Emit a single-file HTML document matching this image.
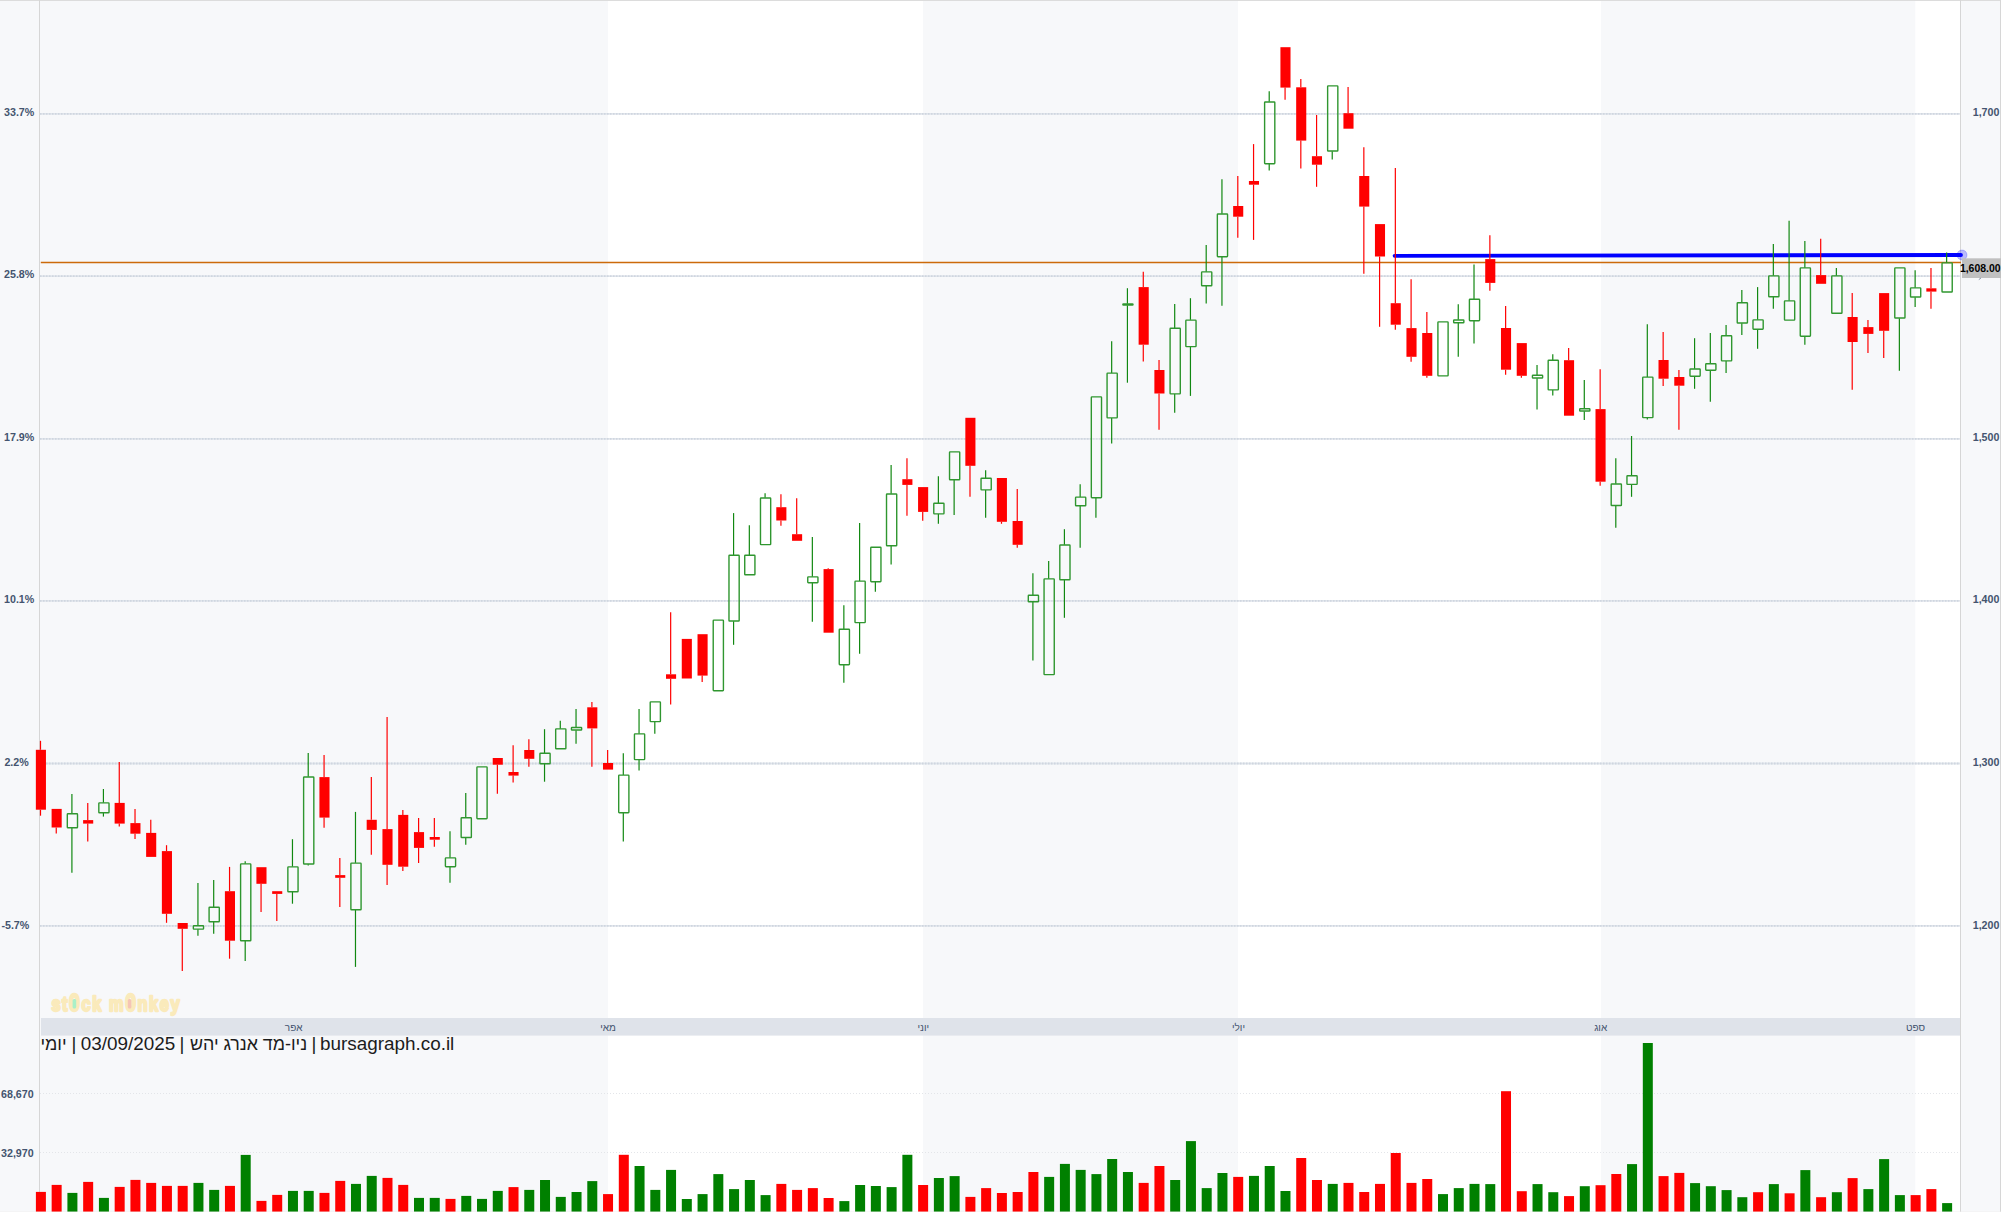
<!DOCTYPE html><html><head><meta charset="utf-8"><title>bursagraph</title>
<style>html,body{margin:0;padding:0;background:#f7f8fa;}body{width:2001px;height:1212px;overflow:hidden;}svg{display:block;}text{font-family:"Liberation Sans","DejaVu Sans",sans-serif;}.ax{font-size:10.7px;font-weight:bold;fill:#44546f;}.mo{font-size:10px;fill:#44546f;text-anchor:middle;}</style></head><body>
<svg width="2001" height="1212" viewBox="0 0 2001 1212">
<rect x="0" y="0" width="2001" height="1212" fill="#f7f8fa"/>
<rect x="608" y="1" width="315" height="1211" fill="#ffffff"/>
<rect x="1238" y="1" width="363" height="1211" fill="#ffffff"/>
<rect x="1915.3" y="1" width="44.700000000000045" height="1211" fill="#ffffff"/>
<rect x="0" y="0" width="2001" height="1" fill="#dcdcdc"/>
<rect x="39" y="0" width="1" height="1212" fill="#d6d6d6"/>
<rect x="1960" y="0" width="1" height="1212" fill="#d6d6d6"/>
<rect x="2000" y="0" width="1" height="1212" fill="#d6d6d6"/>
<line x1="40" x2="1960" y1="113.9" y2="113.9" stroke="#e0e5eb" stroke-width="1.8"/>
<line x1="40" x2="1960" y1="113.9" y2="113.9" stroke="#cfd6e0" stroke-width="1.8" stroke-dasharray="1.5 1.5"/>
<line x1="40" x2="1960" y1="276.2" y2="276.2" stroke="#e0e5eb" stroke-width="1.8"/>
<line x1="40" x2="1960" y1="276.2" y2="276.2" stroke="#cfd6e0" stroke-width="1.8" stroke-dasharray="1.5 1.5"/>
<line x1="40" x2="1960" y1="438.8" y2="438.8" stroke="#e0e5eb" stroke-width="1.8"/>
<line x1="40" x2="1960" y1="438.8" y2="438.8" stroke="#cfd6e0" stroke-width="1.8" stroke-dasharray="1.5 1.5"/>
<line x1="40" x2="1960" y1="600.9" y2="600.9" stroke="#e0e5eb" stroke-width="1.8"/>
<line x1="40" x2="1960" y1="600.9" y2="600.9" stroke="#cfd6e0" stroke-width="1.8" stroke-dasharray="1.5 1.5"/>
<line x1="40" x2="1960" y1="763.5" y2="763.5" stroke="#e0e5eb" stroke-width="1.8"/>
<line x1="40" x2="1960" y1="763.5" y2="763.5" stroke="#cfd6e0" stroke-width="1.8" stroke-dasharray="1.5 1.5"/>
<line x1="40" x2="1960" y1="925.9" y2="925.9" stroke="#e0e5eb" stroke-width="1.8"/>
<line x1="40" x2="1960" y1="925.9" y2="925.9" stroke="#cfd6e0" stroke-width="1.8" stroke-dasharray="1.5 1.5"/>
<line x1="40" x2="1960" y1="1093.5" y2="1093.5" stroke="#e3e5e9" stroke-width="1" stroke-dasharray="1 2"/>
<line x1="40" x2="1960" y1="1152.5" y2="1152.5" stroke="#e3e5e9" stroke-width="1" stroke-dasharray="1 2"/>
<line x1="40.8" x2="1961" y1="262.5" y2="262.5" stroke="#cc6a0a" stroke-width="1.3"/>
<line x1="1394.6" x2="1961" y1="255.8" y2="255" stroke="#0000ff" stroke-width="3.8" stroke-linecap="round"/>
<rect x="35.90" y="1191.9" width="10" height="20.1" fill="#ff0000"/>
<rect x="51.65" y="1184.9" width="10" height="27.1" fill="#ff0000"/>
<rect x="67.41" y="1192.9" width="10" height="19.1" fill="#008000"/>
<rect x="83.16" y="1181.9" width="10" height="30.1" fill="#ff0000"/>
<rect x="98.92" y="1197.9" width="10" height="14.1" fill="#008000"/>
<rect x="114.67" y="1186.9" width="10" height="25.1" fill="#ff0000"/>
<rect x="130.42" y="1179.9" width="10" height="32.1" fill="#ff0000"/>
<rect x="146.18" y="1182.9" width="10" height="29.1" fill="#ff0000"/>
<rect x="161.93" y="1185.9" width="10" height="26.1" fill="#ff0000"/>
<rect x="177.69" y="1185.9" width="10" height="26.1" fill="#ff0000"/>
<rect x="193.44" y="1182.9" width="10" height="29.1" fill="#008000"/>
<rect x="209.19" y="1189.9" width="10" height="22.1" fill="#008000"/>
<rect x="224.95" y="1185.9" width="10" height="26.1" fill="#ff0000"/>
<rect x="240.70" y="1154.9" width="10" height="57.1" fill="#008000"/>
<rect x="256.46" y="1200.9" width="10" height="11.1" fill="#ff0000"/>
<rect x="272.21" y="1194.9" width="10" height="17.1" fill="#ff0000"/>
<rect x="287.96" y="1190.9" width="10" height="21.1" fill="#008000"/>
<rect x="303.72" y="1190.9" width="10" height="21.1" fill="#008000"/>
<rect x="319.47" y="1192.9" width="10" height="19.1" fill="#ff0000"/>
<rect x="335.23" y="1180.9" width="10" height="31.1" fill="#ff0000"/>
<rect x="350.98" y="1183.9" width="10" height="28.1" fill="#008000"/>
<rect x="366.73" y="1175.9" width="10" height="36.1" fill="#008000"/>
<rect x="382.49" y="1177.9" width="10" height="34.1" fill="#ff0000"/>
<rect x="398.24" y="1184.9" width="10" height="27.1" fill="#ff0000"/>
<rect x="414.00" y="1197.9" width="10" height="14.1" fill="#008000"/>
<rect x="429.75" y="1197.9" width="10" height="14.1" fill="#008000"/>
<rect x="445.50" y="1198.9" width="10" height="13.1" fill="#ff0000"/>
<rect x="461.26" y="1195.9" width="10" height="16.1" fill="#008000"/>
<rect x="477.01" y="1198.9" width="10" height="13.1" fill="#008000"/>
<rect x="492.77" y="1190.9" width="10" height="21.1" fill="#008000"/>
<rect x="508.52" y="1187.1" width="10" height="24.9" fill="#ff0000"/>
<rect x="524.27" y="1189.9" width="10" height="22.1" fill="#008000"/>
<rect x="540.03" y="1180.0" width="10" height="32.0" fill="#008000"/>
<rect x="555.78" y="1196.9" width="10" height="15.1" fill="#008000"/>
<rect x="571.54" y="1192.0" width="10" height="20.0" fill="#008000"/>
<rect x="587.29" y="1181.1" width="10" height="30.9" fill="#008000"/>
<rect x="603.04" y="1194.1" width="10" height="17.9" fill="#ff0000"/>
<rect x="618.80" y="1154.8" width="10" height="57.2" fill="#ff0000"/>
<rect x="634.55" y="1166.0" width="10" height="46.0" fill="#008000"/>
<rect x="650.31" y="1189.9" width="10" height="22.1" fill="#008000"/>
<rect x="666.06" y="1169.9" width="10" height="42.1" fill="#008000"/>
<rect x="681.81" y="1199.0" width="10" height="13.0" fill="#008000"/>
<rect x="697.57" y="1194.1" width="10" height="17.9" fill="#008000"/>
<rect x="713.32" y="1174.1" width="10" height="37.9" fill="#008000"/>
<rect x="729.08" y="1189.1" width="10" height="22.9" fill="#008000"/>
<rect x="744.83" y="1180.0" width="10" height="32.0" fill="#008000"/>
<rect x="760.58" y="1195.1" width="10" height="16.9" fill="#008000"/>
<rect x="776.34" y="1183.9" width="10" height="28.1" fill="#ff0000"/>
<rect x="792.09" y="1189.9" width="10" height="22.1" fill="#ff0000"/>
<rect x="807.85" y="1188.1" width="10" height="23.9" fill="#ff0000"/>
<rect x="823.60" y="1198.0" width="10" height="14.0" fill="#ff0000"/>
<rect x="839.35" y="1201.1" width="10" height="10.9" fill="#008000"/>
<rect x="855.11" y="1185.0" width="10" height="27.0" fill="#008000"/>
<rect x="870.86" y="1186.0" width="10" height="26.0" fill="#008000"/>
<rect x="886.62" y="1187.1" width="10" height="24.9" fill="#008000"/>
<rect x="902.37" y="1154.8" width="10" height="57.2" fill="#008000"/>
<rect x="918.12" y="1185.0" width="10" height="27.0" fill="#ff0000"/>
<rect x="933.88" y="1178.0" width="10" height="34.0" fill="#008000"/>
<rect x="949.63" y="1176.1" width="10" height="35.9" fill="#008000"/>
<rect x="965.39" y="1196.9" width="10" height="15.1" fill="#ff0000"/>
<rect x="981.14" y="1188.1" width="10" height="23.9" fill="#ff0000"/>
<rect x="996.89" y="1193.0" width="10" height="19.0" fill="#ff0000"/>
<rect x="1012.65" y="1192.0" width="10" height="20.0" fill="#ff0000"/>
<rect x="1028.40" y="1172.0" width="10" height="40.0" fill="#ff0000"/>
<rect x="1044.16" y="1176.9" width="10" height="35.1" fill="#008000"/>
<rect x="1059.91" y="1163.9" width="10" height="48.1" fill="#008000"/>
<rect x="1075.66" y="1169.9" width="10" height="42.1" fill="#008000"/>
<rect x="1091.42" y="1174.1" width="10" height="37.9" fill="#008000"/>
<rect x="1107.17" y="1159.0" width="10" height="53.0" fill="#008000"/>
<rect x="1122.93" y="1172.0" width="10" height="40.0" fill="#008000"/>
<rect x="1138.68" y="1182.9" width="10" height="29.1" fill="#ff0000"/>
<rect x="1154.43" y="1166.0" width="10" height="46.0" fill="#ff0000"/>
<rect x="1170.19" y="1180.0" width="10" height="32.0" fill="#008000"/>
<rect x="1185.94" y="1141.1" width="10" height="70.9" fill="#008000"/>
<rect x="1201.70" y="1188.1" width="10" height="23.9" fill="#008000"/>
<rect x="1217.45" y="1173.0" width="10" height="39.0" fill="#008000"/>
<rect x="1233.20" y="1176.9" width="10" height="35.1" fill="#ff0000"/>
<rect x="1248.96" y="1175.9" width="10" height="36.1" fill="#008000"/>
<rect x="1264.71" y="1166.0" width="10" height="46.0" fill="#008000"/>
<rect x="1280.47" y="1191.0" width="10" height="21.0" fill="#008000"/>
<rect x="1296.22" y="1158.0" width="10" height="54.0" fill="#ff0000"/>
<rect x="1311.97" y="1180.0" width="10" height="32.0" fill="#ff0000"/>
<rect x="1327.73" y="1183.9" width="10" height="28.1" fill="#008000"/>
<rect x="1343.48" y="1182.9" width="10" height="29.1" fill="#ff0000"/>
<rect x="1359.24" y="1192.0" width="10" height="20.0" fill="#ff0000"/>
<rect x="1374.99" y="1183.9" width="10" height="28.1" fill="#ff0000"/>
<rect x="1390.74" y="1153.0" width="10" height="59.0" fill="#ff0000"/>
<rect x="1406.50" y="1182.9" width="10" height="29.1" fill="#ff0000"/>
<rect x="1422.25" y="1179.0" width="10" height="33.0" fill="#ff0000"/>
<rect x="1438.01" y="1194.1" width="10" height="17.9" fill="#008000"/>
<rect x="1453.76" y="1188.1" width="10" height="23.9" fill="#008000"/>
<rect x="1469.51" y="1183.9" width="10" height="28.1" fill="#008000"/>
<rect x="1485.27" y="1184.1" width="10" height="27.9" fill="#008000"/>
<rect x="1501.02" y="1091.2" width="10" height="120.8" fill="#ff0000"/>
<rect x="1516.78" y="1191.2" width="10" height="20.8" fill="#ff0000"/>
<rect x="1532.53" y="1184.1" width="10" height="27.9" fill="#008000"/>
<rect x="1548.28" y="1192.2" width="10" height="19.8" fill="#008000"/>
<rect x="1564.04" y="1196.1" width="10" height="15.9" fill="#ff0000"/>
<rect x="1579.79" y="1186.2" width="10" height="25.8" fill="#008000"/>
<rect x="1595.55" y="1185.2" width="10" height="26.8" fill="#ff0000"/>
<rect x="1611.30" y="1174.0" width="10" height="38.0" fill="#ff0000"/>
<rect x="1627.05" y="1164.1" width="10" height="47.9" fill="#008000"/>
<rect x="1642.81" y="1043.0" width="10" height="169.0" fill="#008000"/>
<rect x="1658.56" y="1176.1" width="10" height="35.9" fill="#ff0000"/>
<rect x="1674.32" y="1172.9" width="10" height="39.1" fill="#ff0000"/>
<rect x="1690.07" y="1183.1" width="10" height="28.9" fill="#008000"/>
<rect x="1705.82" y="1186.2" width="10" height="25.8" fill="#008000"/>
<rect x="1721.58" y="1190.1" width="10" height="21.9" fill="#008000"/>
<rect x="1737.33" y="1197.2" width="10" height="14.8" fill="#008000"/>
<rect x="1753.09" y="1192.2" width="10" height="19.8" fill="#ff0000"/>
<rect x="1768.84" y="1184.1" width="10" height="27.9" fill="#008000"/>
<rect x="1784.59" y="1193.3" width="10" height="18.7" fill="#ff0000"/>
<rect x="1800.35" y="1170.1" width="10" height="41.9" fill="#008000"/>
<rect x="1816.10" y="1197.2" width="10" height="14.8" fill="#ff0000"/>
<rect x="1831.86" y="1192.2" width="10" height="19.8" fill="#008000"/>
<rect x="1847.61" y="1178.1" width="10" height="33.9" fill="#ff0000"/>
<rect x="1863.36" y="1189.1" width="10" height="22.9" fill="#008000"/>
<rect x="1879.12" y="1159.1" width="10" height="52.9" fill="#008000"/>
<rect x="1894.87" y="1195.1" width="10" height="16.9" fill="#008000"/>
<rect x="1910.63" y="1195.1" width="10" height="16.9" fill="#ff0000"/>
<rect x="1926.38" y="1189.1" width="10" height="22.9" fill="#ff0000"/>
<rect x="1942.13" y="1203.1" width="10" height="8.9" fill="#008000"/>
<line x1="40.50" x2="40.50" y1="740.8" y2="749.8" stroke="#ff0000" stroke-width="1.2"/>
<line x1="40.50" x2="40.50" y1="809.7" y2="815.7" stroke="#ff0000" stroke-width="1.2"/>
<rect x="35.85" y="749.8" width="10.1" height="59.9" fill="#ff0000"/>
<line x1="56.25" x2="56.25" y1="827.5" y2="833.4" stroke="#ff0000" stroke-width="1.2"/>
<rect x="51.60" y="808.9" width="10.1" height="18.6" fill="#ff0000"/>
<line x1="71.91" x2="71.91" y1="794.0" y2="813.6" stroke="#118811" stroke-width="1.2"/>
<line x1="71.91" x2="71.91" y1="828.0" y2="872.7" stroke="#118811" stroke-width="1.2"/>
<rect x="67.31" y="813.8" width="10.2" height="14.0" rx="0.6" fill="#ffffff" fill-opacity="0.22" stroke="#2f962f" stroke-width="1.4"/>
<line x1="87.76" x2="87.76" y1="802.9" y2="820.1" stroke="#ff0000" stroke-width="1.2"/>
<line x1="87.76" x2="87.76" y1="823.6" y2="841.6" stroke="#ff0000" stroke-width="1.2"/>
<rect x="83.11" y="820.1" width="10.1" height="3.5" fill="#ff0000"/>
<line x1="103.42" x2="103.42" y1="789.0" y2="802.7" stroke="#118811" stroke-width="1.2"/>
<line x1="103.42" x2="103.42" y1="813.0" y2="816.6" stroke="#118811" stroke-width="1.2"/>
<rect x="98.82" y="802.9" width="10.2" height="9.9" rx="0.6" fill="#ffffff" fill-opacity="0.22" stroke="#2f962f" stroke-width="1.4"/>
<line x1="119.27" x2="119.27" y1="762.1" y2="802.9" stroke="#ff0000" stroke-width="1.2"/>
<line x1="119.27" x2="119.27" y1="823.6" y2="826.6" stroke="#ff0000" stroke-width="1.2"/>
<rect x="114.62" y="802.9" width="10.1" height="20.7" fill="#ff0000"/>
<line x1="135.02" x2="135.02" y1="808.9" y2="823.1" stroke="#ff0000" stroke-width="1.2"/>
<line x1="135.02" x2="135.02" y1="833.7" y2="838.9" stroke="#ff0000" stroke-width="1.2"/>
<rect x="130.37" y="823.1" width="10.1" height="10.6" fill="#ff0000"/>
<line x1="150.78" x2="150.78" y1="819.8" y2="832.9" stroke="#ff0000" stroke-width="1.2"/>
<rect x="146.13" y="832.9" width="10.1" height="24.0" fill="#ff0000"/>
<line x1="166.53" x2="166.53" y1="845.2" y2="851.1" stroke="#ff0000" stroke-width="1.2"/>
<line x1="166.53" x2="166.53" y1="913.8" y2="922.8" stroke="#ff0000" stroke-width="1.2"/>
<rect x="161.88" y="851.1" width="10.1" height="62.7" fill="#ff0000"/>
<line x1="182.29" x2="182.29" y1="928.8" y2="971.0" stroke="#ff0000" stroke-width="1.2"/>
<rect x="177.64" y="923.0" width="10.1" height="5.8" fill="#ff0000"/>
<line x1="197.94" x2="197.94" y1="883.0" y2="925.5" stroke="#118811" stroke-width="1.2"/>
<line x1="197.94" x2="197.94" y1="929.3" y2="935.8" stroke="#118811" stroke-width="1.2"/>
<rect x="193.34" y="925.7" width="10.2" height="3.4" rx="0.6" fill="#ffffff" fill-opacity="0.22" stroke="#2f962f" stroke-width="1.4"/>
<line x1="213.69" x2="213.69" y1="880.0" y2="907.0" stroke="#118811" stroke-width="1.2"/>
<line x1="213.69" x2="213.69" y1="922.0" y2="933.7" stroke="#118811" stroke-width="1.2"/>
<rect x="209.09" y="907.2" width="10.2" height="14.6" rx="0.6" fill="#ffffff" fill-opacity="0.22" stroke="#2f962f" stroke-width="1.4"/>
<line x1="229.55" x2="229.55" y1="866.9" y2="891.2" stroke="#ff0000" stroke-width="1.2"/>
<line x1="229.55" x2="229.55" y1="940.7" y2="958.7" stroke="#ff0000" stroke-width="1.2"/>
<rect x="224.90" y="891.2" width="10.1" height="49.5" fill="#ff0000"/>
<line x1="245.20" x2="245.20" y1="861.2" y2="863.7" stroke="#118811" stroke-width="1.2"/>
<line x1="245.20" x2="245.20" y1="941.0" y2="960.9" stroke="#118811" stroke-width="1.2"/>
<rect x="240.60" y="863.9" width="10.2" height="76.9" rx="0.6" fill="#ffffff" fill-opacity="0.22" stroke="#2f962f" stroke-width="1.4"/>
<line x1="261.06" x2="261.06" y1="883.8" y2="911.9" stroke="#ff0000" stroke-width="1.2"/>
<rect x="256.41" y="867.2" width="10.1" height="16.6" fill="#ff0000"/>
<line x1="276.81" x2="276.81" y1="893.9" y2="920.9" stroke="#ff0000" stroke-width="1.2"/>
<rect x="272.16" y="891.2" width="10.1" height="2.7" fill="#ff0000"/>
<line x1="292.46" x2="292.46" y1="839.2" y2="866.7" stroke="#118811" stroke-width="1.2"/>
<line x1="292.46" x2="292.46" y1="892.0" y2="903.7" stroke="#118811" stroke-width="1.2"/>
<rect x="287.86" y="866.9" width="10.2" height="24.9" rx="0.6" fill="#ffffff" fill-opacity="0.22" stroke="#2f962f" stroke-width="1.4"/>
<line x1="308.22" x2="308.22" y1="753.1" y2="776.8" stroke="#118811" stroke-width="1.2"/>
<line x1="308.22" x2="308.22" y1="864.2" y2="865.6" stroke="#118811" stroke-width="1.2"/>
<rect x="303.62" y="777.0" width="10.2" height="87.0" rx="0.6" fill="#ffffff" fill-opacity="0.22" stroke="#2f962f" stroke-width="1.4"/>
<line x1="324.07" x2="324.07" y1="755.0" y2="777.1" stroke="#ff0000" stroke-width="1.2"/>
<line x1="324.07" x2="324.07" y1="817.6" y2="827.7" stroke="#ff0000" stroke-width="1.2"/>
<rect x="319.42" y="777.1" width="10.1" height="40.5" fill="#ff0000"/>
<line x1="339.83" x2="339.83" y1="858.0" y2="875.1" stroke="#ff0000" stroke-width="1.2"/>
<line x1="339.83" x2="339.83" y1="877.8" y2="907.0" stroke="#ff0000" stroke-width="1.2"/>
<rect x="335.18" y="875.1" width="10.1" height="2.7" fill="#ff0000"/>
<line x1="355.48" x2="355.48" y1="811.9" y2="862.9" stroke="#118811" stroke-width="1.2"/>
<line x1="355.48" x2="355.48" y1="910.0" y2="966.9" stroke="#118811" stroke-width="1.2"/>
<rect x="350.88" y="863.1" width="10.2" height="46.7" rx="0.6" fill="#ffffff" fill-opacity="0.22" stroke="#2f962f" stroke-width="1.4"/>
<line x1="371.33" x2="371.33" y1="777.1" y2="819.8" stroke="#ff0000" stroke-width="1.2"/>
<line x1="371.33" x2="371.33" y1="829.9" y2="854.7" stroke="#ff0000" stroke-width="1.2"/>
<rect x="366.68" y="819.8" width="10.1" height="10.1" fill="#ff0000"/>
<line x1="387.09" x2="387.09" y1="716.9" y2="829.1" stroke="#ff0000" stroke-width="1.2"/>
<line x1="387.09" x2="387.09" y1="864.8" y2="884.9" stroke="#ff0000" stroke-width="1.2"/>
<rect x="382.44" y="829.1" width="10.1" height="35.7" fill="#ff0000"/>
<line x1="402.84" x2="402.84" y1="810.0" y2="814.9" stroke="#ff0000" stroke-width="1.2"/>
<line x1="402.84" x2="402.84" y1="866.7" y2="871.0" stroke="#ff0000" stroke-width="1.2"/>
<rect x="398.19" y="814.9" width="10.1" height="51.8" fill="#ff0000"/>
<line x1="418.60" x2="418.60" y1="817.9" y2="832.1" stroke="#ff0000" stroke-width="1.2"/>
<line x1="418.60" x2="418.60" y1="847.9" y2="862.9" stroke="#ff0000" stroke-width="1.2"/>
<rect x="413.95" y="832.1" width="10.1" height="15.8" fill="#ff0000"/>
<line x1="434.35" x2="434.35" y1="817.9" y2="837.0" stroke="#ff0000" stroke-width="1.2"/>
<line x1="434.35" x2="434.35" y1="839.7" y2="846.8" stroke="#ff0000" stroke-width="1.2"/>
<rect x="429.70" y="837.0" width="10.1" height="2.7" fill="#ff0000"/>
<line x1="450.00" x2="450.00" y1="831.3" y2="857.7" stroke="#118811" stroke-width="1.2"/>
<line x1="450.00" x2="450.00" y1="866.9" y2="882.7" stroke="#118811" stroke-width="1.2"/>
<rect x="445.40" y="857.9" width="10.2" height="8.8" rx="0.6" fill="#ffffff" fill-opacity="0.22" stroke="#2f962f" stroke-width="1.4"/>
<line x1="465.76" x2="465.76" y1="793.1" y2="817.6" stroke="#118811" stroke-width="1.2"/>
<line x1="465.76" x2="465.76" y1="837.7" y2="844.7" stroke="#118811" stroke-width="1.2"/>
<rect x="461.16" y="817.8" width="10.2" height="19.7" rx="0.6" fill="#ffffff" fill-opacity="0.22" stroke="#2f962f" stroke-width="1.4"/>
<rect x="476.91" y="766.9" width="10.2" height="51.8" rx="0.6" fill="#ffffff" fill-opacity="0.22" stroke="#2f962f" stroke-width="1.4"/>
<line x1="497.37" x2="497.37" y1="764.7" y2="793.8" stroke="#ff0000" stroke-width="1.2"/>
<rect x="492.72" y="758.0" width="10.1" height="6.7" fill="#ff0000"/>
<line x1="513.12" x2="513.12" y1="745.3" y2="772.0" stroke="#ff0000" stroke-width="1.2"/>
<line x1="513.12" x2="513.12" y1="775.6" y2="782.5" stroke="#ff0000" stroke-width="1.2"/>
<rect x="508.47" y="772.0" width="10.1" height="3.6" fill="#ff0000"/>
<line x1="528.87" x2="528.87" y1="739.2" y2="750.0" stroke="#ff0000" stroke-width="1.2"/>
<line x1="528.87" x2="528.87" y1="758.8" y2="766.7" stroke="#ff0000" stroke-width="1.2"/>
<rect x="524.22" y="750.0" width="10.1" height="8.8" fill="#ff0000"/>
<line x1="544.53" x2="544.53" y1="729.2" y2="753.0" stroke="#118811" stroke-width="1.2"/>
<line x1="544.53" x2="544.53" y1="764.0" y2="781.7" stroke="#118811" stroke-width="1.2"/>
<rect x="539.93" y="753.2" width="10.2" height="10.6" rx="0.6" fill="#ffffff" fill-opacity="0.22" stroke="#2f962f" stroke-width="1.4"/>
<line x1="560.28" x2="560.28" y1="720.7" y2="728.7" stroke="#118811" stroke-width="1.2"/>
<rect x="555.68" y="728.9" width="10.2" height="19.9" rx="0.6" fill="#ffffff" fill-opacity="0.22" stroke="#2f962f" stroke-width="1.4"/>
<line x1="576.04" x2="576.04" y1="709.1" y2="727.3" stroke="#118811" stroke-width="1.2"/>
<line x1="576.04" x2="576.04" y1="730.2" y2="743.7" stroke="#118811" stroke-width="1.2"/>
<rect x="571.44" y="727.5" width="10.2" height="2.5" rx="0.6" fill="#ffffff" fill-opacity="0.22" stroke="#2f962f" stroke-width="1.4"/>
<line x1="591.89" x2="591.89" y1="702.0" y2="707.3" stroke="#ff0000" stroke-width="1.2"/>
<line x1="591.89" x2="591.89" y1="728.4" y2="766.7" stroke="#ff0000" stroke-width="1.2"/>
<rect x="587.24" y="707.3" width="10.1" height="21.1" fill="#ff0000"/>
<line x1="607.64" x2="607.64" y1="750.0" y2="763.0" stroke="#ff0000" stroke-width="1.2"/>
<rect x="602.99" y="763.0" width="10.1" height="6.6" fill="#ff0000"/>
<line x1="623.30" x2="623.30" y1="753.2" y2="774.9" stroke="#118811" stroke-width="1.2"/>
<line x1="623.30" x2="623.30" y1="812.9" y2="841.6" stroke="#118811" stroke-width="1.2"/>
<rect x="618.70" y="775.1" width="10.2" height="37.6" rx="0.6" fill="#ffffff" fill-opacity="0.22" stroke="#2f962f" stroke-width="1.4"/>
<line x1="639.05" x2="639.05" y1="709.1" y2="733.7" stroke="#118811" stroke-width="1.2"/>
<line x1="639.05" x2="639.05" y1="759.8" y2="770.6" stroke="#118811" stroke-width="1.2"/>
<rect x="634.45" y="733.9" width="10.2" height="25.7" rx="0.6" fill="#ffffff" fill-opacity="0.22" stroke="#2f962f" stroke-width="1.4"/>
<line x1="654.81" x2="654.81" y1="721.8" y2="733.7" stroke="#118811" stroke-width="1.2"/>
<rect x="650.21" y="701.9" width="10.2" height="19.7" rx="0.6" fill="#ffffff" fill-opacity="0.22" stroke="#2f962f" stroke-width="1.4"/>
<line x1="670.66" x2="670.66" y1="612.3" y2="674.3" stroke="#ff0000" stroke-width="1.2"/>
<line x1="670.66" x2="670.66" y1="678.8" y2="704.6" stroke="#ff0000" stroke-width="1.2"/>
<rect x="666.01" y="674.3" width="10.1" height="4.5" fill="#ff0000"/>
<rect x="681.76" y="638.9" width="10.1" height="39.6" fill="#ff0000"/>
<line x1="702.17" x2="702.17" y1="675.6" y2="682.0" stroke="#ff0000" stroke-width="1.2"/>
<rect x="697.52" y="634.2" width="10.1" height="41.4" fill="#ff0000"/>
<rect x="713.22" y="620.1" width="10.2" height="70.6" rx="0.6" fill="#ffffff" fill-opacity="0.22" stroke="#2f962f" stroke-width="1.4"/>
<line x1="733.58" x2="733.58" y1="513.1" y2="555.0" stroke="#118811" stroke-width="1.2"/>
<line x1="733.58" x2="733.58" y1="621.2" y2="644.8" stroke="#118811" stroke-width="1.2"/>
<rect x="728.98" y="555.2" width="10.2" height="65.8" rx="0.6" fill="#ffffff" fill-opacity="0.22" stroke="#2f962f" stroke-width="1.4"/>
<line x1="749.33" x2="749.33" y1="525.2" y2="555.0" stroke="#118811" stroke-width="1.2"/>
<rect x="744.73" y="555.2" width="10.2" height="19.6" rx="0.6" fill="#ffffff" fill-opacity="0.22" stroke="#2f962f" stroke-width="1.4"/>
<line x1="765.08" x2="765.08" y1="493.3" y2="497.8" stroke="#118811" stroke-width="1.2"/>
<rect x="760.48" y="498.0" width="10.2" height="46.6" rx="0.6" fill="#ffffff" fill-opacity="0.22" stroke="#2f962f" stroke-width="1.4"/>
<line x1="780.94" x2="780.94" y1="494.3" y2="507.2" stroke="#ff0000" stroke-width="1.2"/>
<line x1="780.94" x2="780.94" y1="520.5" y2="525.7" stroke="#ff0000" stroke-width="1.2"/>
<rect x="776.29" y="507.2" width="10.1" height="13.3" fill="#ff0000"/>
<line x1="796.69" x2="796.69" y1="498.3" y2="534.2" stroke="#ff0000" stroke-width="1.2"/>
<rect x="792.04" y="534.2" width="10.1" height="6.6" fill="#ff0000"/>
<line x1="812.35" x2="812.35" y1="537.1" y2="576.7" stroke="#118811" stroke-width="1.2"/>
<line x1="812.35" x2="812.35" y1="582.9" y2="621.8" stroke="#118811" stroke-width="1.2"/>
<rect x="807.75" y="576.9" width="10.2" height="5.8" rx="0.6" fill="#ffffff" fill-opacity="0.22" stroke="#2f962f" stroke-width="1.4"/>
<line x1="828.20" x2="828.20" y1="568.3" y2="569.1" stroke="#ff0000" stroke-width="1.2"/>
<rect x="823.55" y="569.1" width="10.1" height="63.6" fill="#ff0000"/>
<line x1="843.85" x2="843.85" y1="605.2" y2="629.0" stroke="#118811" stroke-width="1.2"/>
<line x1="843.85" x2="843.85" y1="664.9" y2="682.7" stroke="#118811" stroke-width="1.2"/>
<rect x="839.25" y="629.2" width="10.2" height="35.5" rx="0.6" fill="#ffffff" fill-opacity="0.22" stroke="#2f962f" stroke-width="1.4"/>
<line x1="859.61" x2="859.61" y1="523.0" y2="580.9" stroke="#118811" stroke-width="1.2"/>
<line x1="859.61" x2="859.61" y1="622.8" y2="653.7" stroke="#118811" stroke-width="1.2"/>
<rect x="855.01" y="581.1" width="10.2" height="41.5" rx="0.6" fill="#ffffff" fill-opacity="0.22" stroke="#2f962f" stroke-width="1.4"/>
<line x1="875.36" x2="875.36" y1="581.9" y2="591.8" stroke="#118811" stroke-width="1.2"/>
<rect x="870.76" y="547.2" width="10.2" height="34.5" rx="0.6" fill="#ffffff" fill-opacity="0.22" stroke="#2f962f" stroke-width="1.4"/>
<line x1="891.12" x2="891.12" y1="465.1" y2="493.8" stroke="#118811" stroke-width="1.2"/>
<line x1="891.12" x2="891.12" y1="546.0" y2="564.6" stroke="#118811" stroke-width="1.2"/>
<rect x="886.52" y="494.0" width="10.2" height="51.8" rx="0.6" fill="#ffffff" fill-opacity="0.22" stroke="#2f962f" stroke-width="1.4"/>
<line x1="906.97" x2="906.97" y1="458.2" y2="479.2" stroke="#ff0000" stroke-width="1.2"/>
<line x1="906.97" x2="906.97" y1="484.9" y2="515.8" stroke="#ff0000" stroke-width="1.2"/>
<rect x="902.32" y="479.2" width="10.1" height="5.7" fill="#ff0000"/>
<line x1="922.72" x2="922.72" y1="511.9" y2="520.8" stroke="#ff0000" stroke-width="1.2"/>
<rect x="918.07" y="487.1" width="10.1" height="24.8" fill="#ff0000"/>
<line x1="938.38" x2="938.38" y1="476.2" y2="503.0" stroke="#118811" stroke-width="1.2"/>
<line x1="938.38" x2="938.38" y1="514.1" y2="523.8" stroke="#118811" stroke-width="1.2"/>
<rect x="933.78" y="503.2" width="10.2" height="10.7" rx="0.6" fill="#ffffff" fill-opacity="0.22" stroke="#2f962f" stroke-width="1.4"/>
<line x1="954.13" x2="954.13" y1="480.0" y2="514.9" stroke="#118811" stroke-width="1.2"/>
<rect x="949.53" y="451.9" width="10.2" height="27.9" rx="0.6" fill="#ffffff" fill-opacity="0.22" stroke="#2f962f" stroke-width="1.4"/>
<line x1="969.99" x2="969.99" y1="465.8" y2="496.8" stroke="#ff0000" stroke-width="1.2"/>
<rect x="965.34" y="417.8" width="10.1" height="48.0" fill="#ff0000"/>
<line x1="985.64" x2="985.64" y1="470.3" y2="478.0" stroke="#118811" stroke-width="1.2"/>
<line x1="985.64" x2="985.64" y1="490.1" y2="517.8" stroke="#118811" stroke-width="1.2"/>
<rect x="981.04" y="478.2" width="10.2" height="11.7" rx="0.6" fill="#ffffff" fill-opacity="0.22" stroke="#2f962f" stroke-width="1.4"/>
<line x1="1001.49" x2="1001.49" y1="521.8" y2="523.8" stroke="#ff0000" stroke-width="1.2"/>
<rect x="996.84" y="478.0" width="10.1" height="43.8" fill="#ff0000"/>
<line x1="1017.25" x2="1017.25" y1="489.1" y2="521.0" stroke="#ff0000" stroke-width="1.2"/>
<line x1="1017.25" x2="1017.25" y1="544.8" y2="547.8" stroke="#ff0000" stroke-width="1.2"/>
<rect x="1012.60" y="521.0" width="10.1" height="23.8" fill="#ff0000"/>
<line x1="1032.90" x2="1032.90" y1="573.3" y2="595.0" stroke="#118811" stroke-width="1.2"/>
<line x1="1032.90" x2="1032.90" y1="602.0" y2="660.6" stroke="#118811" stroke-width="1.2"/>
<rect x="1028.30" y="595.2" width="10.2" height="6.6" rx="0.6" fill="#ffffff" fill-opacity="0.22" stroke="#2f962f" stroke-width="1.4"/>
<line x1="1048.66" x2="1048.66" y1="561.1" y2="578.7" stroke="#118811" stroke-width="1.2"/>
<rect x="1044.06" y="578.9" width="10.2" height="95.7" rx="0.6" fill="#ffffff" fill-opacity="0.22" stroke="#2f962f" stroke-width="1.4"/>
<line x1="1064.41" x2="1064.41" y1="529.2" y2="544.8" stroke="#118811" stroke-width="1.2"/>
<line x1="1064.41" x2="1064.41" y1="580.0" y2="617.8" stroke="#118811" stroke-width="1.2"/>
<rect x="1059.81" y="545.0" width="10.2" height="34.8" rx="0.6" fill="#ffffff" fill-opacity="0.22" stroke="#2f962f" stroke-width="1.4"/>
<line x1="1080.16" x2="1080.16" y1="484.3" y2="496.9" stroke="#118811" stroke-width="1.2"/>
<line x1="1080.16" x2="1080.16" y1="506.0" y2="547.8" stroke="#118811" stroke-width="1.2"/>
<rect x="1075.56" y="497.1" width="10.2" height="8.7" rx="0.6" fill="#ffffff" fill-opacity="0.22" stroke="#2f962f" stroke-width="1.4"/>
<line x1="1095.92" x2="1095.92" y1="497.9" y2="517.7" stroke="#118811" stroke-width="1.2"/>
<rect x="1091.32" y="396.9" width="10.2" height="100.8" rx="0.6" fill="#ffffff" fill-opacity="0.22" stroke="#2f962f" stroke-width="1.4"/>
<line x1="1111.67" x2="1111.67" y1="341.3" y2="372.9" stroke="#118811" stroke-width="1.2"/>
<line x1="1111.67" x2="1111.67" y1="418.1" y2="443.4" stroke="#118811" stroke-width="1.2"/>
<rect x="1107.07" y="373.1" width="10.2" height="44.8" rx="0.6" fill="#ffffff" fill-opacity="0.22" stroke="#2f962f" stroke-width="1.4"/>
<line x1="1127.43" x2="1127.43" y1="288.2" y2="303.8" stroke="#118811" stroke-width="1.2"/>
<line x1="1127.43" x2="1127.43" y1="305.3" y2="382.7" stroke="#118811" stroke-width="1.2"/>
<rect x="1122.83" y="304.0" width="10.2" height="1.1" rx="0.6" fill="#ffffff" fill-opacity="0.22" stroke="#2f962f" stroke-width="1.4"/>
<line x1="1143.28" x2="1143.28" y1="271.8" y2="287.1" stroke="#ff0000" stroke-width="1.2"/>
<line x1="1143.28" x2="1143.28" y1="344.7" y2="361.6" stroke="#ff0000" stroke-width="1.2"/>
<rect x="1138.63" y="287.1" width="10.1" height="57.6" fill="#ff0000"/>
<line x1="1159.03" x2="1159.03" y1="360.0" y2="370.0" stroke="#ff0000" stroke-width="1.2"/>
<line x1="1159.03" x2="1159.03" y1="393.5" y2="429.7" stroke="#ff0000" stroke-width="1.2"/>
<rect x="1154.38" y="370.0" width="10.1" height="23.5" fill="#ff0000"/>
<line x1="1174.69" x2="1174.69" y1="304.0" y2="328.1" stroke="#118811" stroke-width="1.2"/>
<line x1="1174.69" x2="1174.69" y1="394.1" y2="412.8" stroke="#118811" stroke-width="1.2"/>
<rect x="1170.09" y="328.3" width="10.2" height="65.6" rx="0.6" fill="#ffffff" fill-opacity="0.22" stroke="#2f962f" stroke-width="1.4"/>
<line x1="1190.44" x2="1190.44" y1="298.2" y2="319.9" stroke="#118811" stroke-width="1.2"/>
<line x1="1190.44" x2="1190.44" y1="346.8" y2="395.9" stroke="#118811" stroke-width="1.2"/>
<rect x="1185.84" y="320.1" width="10.2" height="26.5" rx="0.6" fill="#ffffff" fill-opacity="0.22" stroke="#2f962f" stroke-width="1.4"/>
<line x1="1206.20" x2="1206.20" y1="245.1" y2="271.7" stroke="#118811" stroke-width="1.2"/>
<line x1="1206.20" x2="1206.20" y1="286.0" y2="303.6" stroke="#118811" stroke-width="1.2"/>
<rect x="1201.60" y="271.9" width="10.2" height="13.9" rx="0.6" fill="#ffffff" fill-opacity="0.22" stroke="#2f962f" stroke-width="1.4"/>
<line x1="1221.95" x2="1221.95" y1="179.2" y2="213.8" stroke="#118811" stroke-width="1.2"/>
<line x1="1221.95" x2="1221.95" y1="256.9" y2="305.8" stroke="#118811" stroke-width="1.2"/>
<rect x="1217.35" y="214.0" width="10.2" height="42.7" rx="0.6" fill="#ffffff" fill-opacity="0.22" stroke="#2f962f" stroke-width="1.4"/>
<line x1="1237.80" x2="1237.80" y1="176.0" y2="206.0" stroke="#ff0000" stroke-width="1.2"/>
<line x1="1237.80" x2="1237.80" y1="216.7" y2="237.7" stroke="#ff0000" stroke-width="1.2"/>
<rect x="1233.15" y="206.0" width="10.1" height="10.7" fill="#ff0000"/>
<line x1="1253.56" x2="1253.56" y1="144.1" y2="181.0" stroke="#ff0000" stroke-width="1.2"/>
<line x1="1253.56" x2="1253.56" y1="184.7" y2="239.9" stroke="#ff0000" stroke-width="1.2"/>
<rect x="1248.91" y="181.0" width="10.1" height="3.7" fill="#ff0000"/>
<line x1="1269.21" x2="1269.21" y1="91.3" y2="101.8" stroke="#118811" stroke-width="1.2"/>
<line x1="1269.21" x2="1269.21" y1="163.9" y2="170.5" stroke="#118811" stroke-width="1.2"/>
<rect x="1264.61" y="102.0" width="10.2" height="61.7" rx="0.6" fill="#ffffff" fill-opacity="0.22" stroke="#2f962f" stroke-width="1.4"/>
<line x1="1285.07" x2="1285.07" y1="87.6" y2="99.7" stroke="#ff0000" stroke-width="1.2"/>
<rect x="1280.42" y="47.2" width="10.1" height="40.4" fill="#ff0000"/>
<line x1="1300.82" x2="1300.82" y1="79.1" y2="87.3" stroke="#ff0000" stroke-width="1.2"/>
<line x1="1300.82" x2="1300.82" y1="140.6" y2="168.6" stroke="#ff0000" stroke-width="1.2"/>
<rect x="1296.17" y="87.3" width="10.1" height="53.3" fill="#ff0000"/>
<line x1="1316.57" x2="1316.57" y1="115.0" y2="156.2" stroke="#ff0000" stroke-width="1.2"/>
<line x1="1316.57" x2="1316.57" y1="164.7" y2="186.8" stroke="#ff0000" stroke-width="1.2"/>
<rect x="1311.92" y="156.2" width="10.1" height="8.5" fill="#ff0000"/>
<line x1="1332.23" x2="1332.23" y1="151.2" y2="159.6" stroke="#118811" stroke-width="1.2"/>
<rect x="1327.63" y="85.9" width="10.2" height="65.1" rx="0.6" fill="#ffffff" fill-opacity="0.22" stroke="#2f962f" stroke-width="1.4"/>
<line x1="1348.08" x2="1348.08" y1="87.0" y2="113.2" stroke="#ff0000" stroke-width="1.2"/>
<rect x="1343.43" y="113.2" width="10.1" height="15.5" fill="#ff0000"/>
<line x1="1363.84" x2="1363.84" y1="147.2" y2="176.0" stroke="#ff0000" stroke-width="1.2"/>
<line x1="1363.84" x2="1363.84" y1="206.6" y2="273.7" stroke="#ff0000" stroke-width="1.2"/>
<rect x="1359.19" y="176.0" width="10.1" height="30.6" fill="#ff0000"/>
<line x1="1379.59" x2="1379.59" y1="256.5" y2="326.8" stroke="#ff0000" stroke-width="1.2"/>
<rect x="1374.94" y="224.1" width="10.1" height="32.4" fill="#ff0000"/>
<line x1="1395.34" x2="1395.34" y1="168.1" y2="303.2" stroke="#ff0000" stroke-width="1.2"/>
<line x1="1395.34" x2="1395.34" y1="324.7" y2="329.7" stroke="#ff0000" stroke-width="1.2"/>
<rect x="1390.69" y="303.2" width="10.1" height="21.5" fill="#ff0000"/>
<line x1="1411.10" x2="1411.10" y1="279.2" y2="328.1" stroke="#ff0000" stroke-width="1.2"/>
<line x1="1411.10" x2="1411.10" y1="356.8" y2="361.8" stroke="#ff0000" stroke-width="1.2"/>
<rect x="1406.45" y="328.1" width="10.1" height="28.7" fill="#ff0000"/>
<line x1="1426.85" x2="1426.85" y1="312.1" y2="333.0" stroke="#ff0000" stroke-width="1.2"/>
<line x1="1426.85" x2="1426.85" y1="375.8" y2="377.7" stroke="#ff0000" stroke-width="1.2"/>
<rect x="1422.20" y="333.0" width="10.1" height="42.8" fill="#ff0000"/>
<rect x="1437.91" y="321.9" width="10.2" height="54.0" rx="0.6" fill="#ffffff" fill-opacity="0.22" stroke="#2f962f" stroke-width="1.4"/>
<line x1="1458.26" x2="1458.26" y1="304.2" y2="319.8" stroke="#118811" stroke-width="1.2"/>
<line x1="1458.26" x2="1458.26" y1="323.0" y2="356.8" stroke="#118811" stroke-width="1.2"/>
<rect x="1453.66" y="320.0" width="10.2" height="2.8" rx="0.6" fill="#ffffff" fill-opacity="0.22" stroke="#2f962f" stroke-width="1.4"/>
<line x1="1474.01" x2="1474.01" y1="264.4" y2="299.0" stroke="#118811" stroke-width="1.2"/>
<line x1="1474.01" x2="1474.01" y1="320.9" y2="343.6" stroke="#118811" stroke-width="1.2"/>
<rect x="1469.41" y="299.2" width="10.2" height="21.5" rx="0.6" fill="#ffffff" fill-opacity="0.22" stroke="#2f962f" stroke-width="1.4"/>
<line x1="1489.87" x2="1489.87" y1="235.3" y2="259.1" stroke="#ff0000" stroke-width="1.2"/>
<line x1="1489.87" x2="1489.87" y1="282.9" y2="290.8" stroke="#ff0000" stroke-width="1.2"/>
<rect x="1485.22" y="259.1" width="10.1" height="23.8" fill="#ff0000"/>
<line x1="1505.62" x2="1505.62" y1="306.1" y2="328.0" stroke="#ff0000" stroke-width="1.2"/>
<line x1="1505.62" x2="1505.62" y1="369.7" y2="374.8" stroke="#ff0000" stroke-width="1.2"/>
<rect x="1500.97" y="328.0" width="10.1" height="41.7" fill="#ff0000"/>
<line x1="1521.38" x2="1521.38" y1="375.8" y2="377.7" stroke="#ff0000" stroke-width="1.2"/>
<rect x="1516.73" y="343.1" width="10.1" height="32.7" fill="#ff0000"/>
<line x1="1537.03" x2="1537.03" y1="365.0" y2="375.0" stroke="#118811" stroke-width="1.2"/>
<line x1="1537.03" x2="1537.03" y1="378.2" y2="409.6" stroke="#118811" stroke-width="1.2"/>
<rect x="1532.43" y="375.2" width="10.2" height="2.8" rx="0.6" fill="#ffffff" fill-opacity="0.22" stroke="#2f962f" stroke-width="1.4"/>
<line x1="1552.78" x2="1552.78" y1="354.2" y2="360.0" stroke="#118811" stroke-width="1.2"/>
<line x1="1552.78" x2="1552.78" y1="390.1" y2="395.6" stroke="#118811" stroke-width="1.2"/>
<rect x="1548.18" y="360.2" width="10.2" height="29.7" rx="0.6" fill="#ffffff" fill-opacity="0.22" stroke="#2f962f" stroke-width="1.4"/>
<line x1="1568.64" x2="1568.64" y1="348.1" y2="360.2" stroke="#ff0000" stroke-width="1.2"/>
<rect x="1563.99" y="360.2" width="10.1" height="55.5" fill="#ff0000"/>
<line x1="1584.29" x2="1584.29" y1="380.0" y2="408.6" stroke="#118811" stroke-width="1.2"/>
<line x1="1584.29" x2="1584.29" y1="411.2" y2="419.9" stroke="#118811" stroke-width="1.2"/>
<rect x="1579.69" y="408.8" width="10.2" height="2.2" rx="0.6" fill="#ffffff" fill-opacity="0.22" stroke="#2f962f" stroke-width="1.4"/>
<line x1="1600.15" x2="1600.15" y1="369.2" y2="409.1" stroke="#ff0000" stroke-width="1.2"/>
<line x1="1600.15" x2="1600.15" y1="481.7" y2="485.7" stroke="#ff0000" stroke-width="1.2"/>
<rect x="1595.50" y="409.1" width="10.1" height="72.6" fill="#ff0000"/>
<line x1="1615.80" x2="1615.80" y1="458.2" y2="483.8" stroke="#118811" stroke-width="1.2"/>
<line x1="1615.80" x2="1615.80" y1="505.7" y2="527.7" stroke="#118811" stroke-width="1.2"/>
<rect x="1611.20" y="484.0" width="10.2" height="21.5" rx="0.6" fill="#ffffff" fill-opacity="0.22" stroke="#2f962f" stroke-width="1.4"/>
<line x1="1631.55" x2="1631.55" y1="436.0" y2="475.6" stroke="#118811" stroke-width="1.2"/>
<line x1="1631.55" x2="1631.55" y1="484.6" y2="496.8" stroke="#118811" stroke-width="1.2"/>
<rect x="1626.95" y="475.8" width="10.2" height="8.6" rx="0.6" fill="#ffffff" fill-opacity="0.22" stroke="#2f962f" stroke-width="1.4"/>
<line x1="1647.31" x2="1647.31" y1="324.3" y2="376.9" stroke="#118811" stroke-width="1.2"/>
<line x1="1647.31" x2="1647.31" y1="417.8" y2="419.6" stroke="#118811" stroke-width="1.2"/>
<rect x="1642.71" y="377.1" width="10.2" height="40.5" rx="0.6" fill="#ffffff" fill-opacity="0.22" stroke="#2f962f" stroke-width="1.4"/>
<line x1="1663.16" x2="1663.16" y1="332.0" y2="360.0" stroke="#ff0000" stroke-width="1.2"/>
<line x1="1663.16" x2="1663.16" y1="378.7" y2="386.0" stroke="#ff0000" stroke-width="1.2"/>
<rect x="1658.51" y="360.0" width="10.1" height="18.7" fill="#ff0000"/>
<line x1="1678.92" x2="1678.92" y1="370.1" y2="377.0" stroke="#ff0000" stroke-width="1.2"/>
<line x1="1678.92" x2="1678.92" y1="385.7" y2="429.8" stroke="#ff0000" stroke-width="1.2"/>
<rect x="1674.27" y="377.0" width="10.1" height="8.7" fill="#ff0000"/>
<line x1="1694.57" x2="1694.57" y1="338.2" y2="368.8" stroke="#118811" stroke-width="1.2"/>
<line x1="1694.57" x2="1694.57" y1="376.4" y2="388.8" stroke="#118811" stroke-width="1.2"/>
<rect x="1689.97" y="369.0" width="10.2" height="7.2" rx="0.6" fill="#ffffff" fill-opacity="0.22" stroke="#2f962f" stroke-width="1.4"/>
<line x1="1710.32" x2="1710.32" y1="333.1" y2="363.6" stroke="#118811" stroke-width="1.2"/>
<line x1="1710.32" x2="1710.32" y1="370.4" y2="401.8" stroke="#118811" stroke-width="1.2"/>
<rect x="1705.72" y="363.8" width="10.2" height="6.4" rx="0.6" fill="#ffffff" fill-opacity="0.22" stroke="#2f962f" stroke-width="1.4"/>
<line x1="1726.08" x2="1726.08" y1="325.0" y2="335.6" stroke="#118811" stroke-width="1.2"/>
<line x1="1726.08" x2="1726.08" y1="361.1" y2="372.9" stroke="#118811" stroke-width="1.2"/>
<rect x="1721.48" y="335.8" width="10.2" height="25.1" rx="0.6" fill="#ffffff" fill-opacity="0.22" stroke="#2f962f" stroke-width="1.4"/>
<line x1="1741.83" x2="1741.83" y1="290.0" y2="302.5" stroke="#118811" stroke-width="1.2"/>
<line x1="1741.83" x2="1741.83" y1="323.2" y2="334.9" stroke="#118811" stroke-width="1.2"/>
<rect x="1737.23" y="302.7" width="10.2" height="20.3" rx="0.6" fill="#ffffff" fill-opacity="0.22" stroke="#2f962f" stroke-width="1.4"/>
<line x1="1757.59" x2="1757.59" y1="287.1" y2="319.7" stroke="#118811" stroke-width="1.2"/>
<line x1="1757.59" x2="1757.59" y1="329.4" y2="348.8" stroke="#118811" stroke-width="1.2"/>
<rect x="1752.99" y="319.9" width="10.2" height="9.3" rx="0.6" fill="#ffffff" fill-opacity="0.22" stroke="#2f962f" stroke-width="1.4"/>
<line x1="1773.34" x2="1773.34" y1="243.9" y2="275.7" stroke="#118811" stroke-width="1.2"/>
<line x1="1773.34" x2="1773.34" y1="297.0" y2="308.7" stroke="#118811" stroke-width="1.2"/>
<rect x="1768.74" y="275.9" width="10.2" height="20.9" rx="0.6" fill="#ffffff" fill-opacity="0.22" stroke="#2f962f" stroke-width="1.4"/>
<line x1="1789.09" x2="1789.09" y1="220.8" y2="300.7" stroke="#118811" stroke-width="1.2"/>
<rect x="1784.49" y="300.9" width="10.2" height="19.2" rx="0.6" fill="#ffffff" fill-opacity="0.22" stroke="#2f962f" stroke-width="1.4"/>
<line x1="1804.85" x2="1804.85" y1="241.1" y2="267.7" stroke="#118811" stroke-width="1.2"/>
<line x1="1804.85" x2="1804.85" y1="336.4" y2="344.8" stroke="#118811" stroke-width="1.2"/>
<rect x="1800.25" y="267.9" width="10.2" height="68.3" rx="0.6" fill="#ffffff" fill-opacity="0.22" stroke="#2f962f" stroke-width="1.4"/>
<line x1="1820.70" x2="1820.70" y1="238.8" y2="275.1" stroke="#ff0000" stroke-width="1.2"/>
<rect x="1816.05" y="275.1" width="10.1" height="8.7" fill="#ff0000"/>
<line x1="1836.36" x2="1836.36" y1="268.1" y2="275.7" stroke="#118811" stroke-width="1.2"/>
<rect x="1831.76" y="275.9" width="10.2" height="37.4" rx="0.6" fill="#ffffff" fill-opacity="0.22" stroke="#2f962f" stroke-width="1.4"/>
<line x1="1852.21" x2="1852.21" y1="293.1" y2="317.0" stroke="#ff0000" stroke-width="1.2"/>
<line x1="1852.21" x2="1852.21" y1="342.0" y2="389.8" stroke="#ff0000" stroke-width="1.2"/>
<rect x="1847.56" y="317.0" width="10.1" height="25.0" fill="#ff0000"/>
<line x1="1867.96" x2="1867.96" y1="319.9" y2="327.1" stroke="#ff0000" stroke-width="1.2"/>
<line x1="1867.96" x2="1867.96" y1="333.9" y2="352.9" stroke="#ff0000" stroke-width="1.2"/>
<rect x="1863.31" y="327.1" width="10.1" height="6.8" fill="#ff0000"/>
<line x1="1883.72" x2="1883.72" y1="330.8" y2="358.0" stroke="#ff0000" stroke-width="1.2"/>
<rect x="1879.07" y="293.1" width="10.1" height="37.7" fill="#ff0000"/>
<line x1="1899.37" x2="1899.37" y1="318.2" y2="370.8" stroke="#118811" stroke-width="1.2"/>
<rect x="1894.77" y="267.9" width="10.2" height="50.1" rx="0.6" fill="#ffffff" fill-opacity="0.22" stroke="#2f962f" stroke-width="1.4"/>
<line x1="1915.13" x2="1915.13" y1="270.2" y2="287.7" stroke="#118811" stroke-width="1.2"/>
<line x1="1915.13" x2="1915.13" y1="297.2" y2="306.9" stroke="#118811" stroke-width="1.2"/>
<rect x="1910.53" y="287.9" width="10.2" height="9.1" rx="0.6" fill="#ffffff" fill-opacity="0.22" stroke="#2f962f" stroke-width="1.4"/>
<line x1="1930.98" x2="1930.98" y1="268.1" y2="288.3" stroke="#ff0000" stroke-width="1.2"/>
<line x1="1930.98" x2="1930.98" y1="291.6" y2="308.7" stroke="#ff0000" stroke-width="1.2"/>
<rect x="1926.33" y="288.3" width="10.1" height="3.3" fill="#ff0000"/>
<line x1="1946.63" x2="1946.63" y1="252.4" y2="262.7" stroke="#118811" stroke-width="1.2"/>
<rect x="1942.03" y="262.9" width="10.2" height="29.1" rx="0.6" fill="#ffffff" fill-opacity="0.22" stroke="#2f962f" stroke-width="1.4"/>
<rect x="41" y="1018" width="1919" height="17.6" fill="#dfe3ea"/>
<text class="mo" x="293.7" y="1031">אפר</text>
<text class="mo" x="608" y="1031">מאי</text>
<text class="mo" x="923.3" y="1031">יוני</text>
<text class="mo" x="1238.5" y="1031">יולי</text>
<text class="mo" x="1600.7" y="1031">אוג</text>
<text class="mo" x="1915.5" y="1031">ספט</text>
<circle cx="1962" cy="255" r="5" fill="#0000ff" fill-opacity="0.25" stroke="#0000ff" stroke-opacity="0.25" stroke-width="0.8"/>
<rect x="1962" y="258.3" width="39" height="19.7" fill="#c0c0c0"/>
<text x="1959.9" y="272.2" style="font-size:10.45px;font-weight:bold;fill:#000">1,608.00</text>
<line x1="1978.8" x2="1981" y1="279.6" y2="278" stroke="#6b7a94" stroke-width="0.8"/>
<text class="ax" x="4" y="115.9">33.7%</text>
<text class="ax" x="4" y="278.0">25.8%</text>
<text class="ax" x="4" y="441.2">17.9%</text>
<text class="ax" x="4" y="603.1">10.1%</text>
<text class="ax" x="4.4" y="766.2">2.2%</text>
<text class="ax" x="1.4" y="928.5">-5.7%</text>
<text class="ax" x="1972.7" y="115.9">1,700</text>
<text class="ax" x="1972.7" y="441.2">1,500</text>
<text class="ax" x="1972.7" y="603.1">1,400</text>
<text class="ax" x="1972.7" y="766.2">1,300</text>
<text class="ax" x="1972.7" y="928.5">1,200</text>
<text class="ax" x="1" y="1098.4">68,670</text>
<text class="ax" x="1" y="1156.9">32,970</text>
<text x="40.4" y="1050" style="font-size:17.9px;fill:#1c1c1c">יומי</text>
<text x="71.6" y="1050" style="font-size:18.7px;fill:#1c1c1c">|</text>
<text x="80.7" y="1050" style="font-size:18.9px;fill:#1c1c1c">03/09/2025</text>
<text x="179.6" y="1050" style="font-size:18.7px;fill:#1c1c1c">|</text>
<text x="190.0" y="1050" style="font-size:17.85px;fill:#1c1c1c">ניו-מד אנרג יהש</text>
<text x="311.5" y="1050" style="font-size:18.7px;fill:#1c1c1c">|</text>
<text x="319.9" y="1050" style="font-size:18.9px;fill:#1c1c1c">bursagraph.co.il</text>
<g transform="translate(51.4,1011.4) scale(0.828,1)"><text x="0" y="0" style="font-size:19.8px;font-weight:bold;fill:#faeabb;stroke:#faeabb;stroke-width:2.3px;stroke-linejoin:round;letter-spacing:1.9px">st<tspan style="font-size:23.5px">0</tspan>ck m<tspan style="font-size:23.5px">0</tspan>nkey</text></g>
<rect x="72.6" y="999" width="3.6" height="9.5" rx="1.5" fill="#aaf0c8"/>
<rect x="127.8" y="999" width="3.6" height="9.5" rx="1.5" fill="#f5c4b5"/>
<rect x="0" y="1211" width="2001" height="1" fill="#f0f0f0" fill-opacity="0.45"/>
</svg></body></html>
